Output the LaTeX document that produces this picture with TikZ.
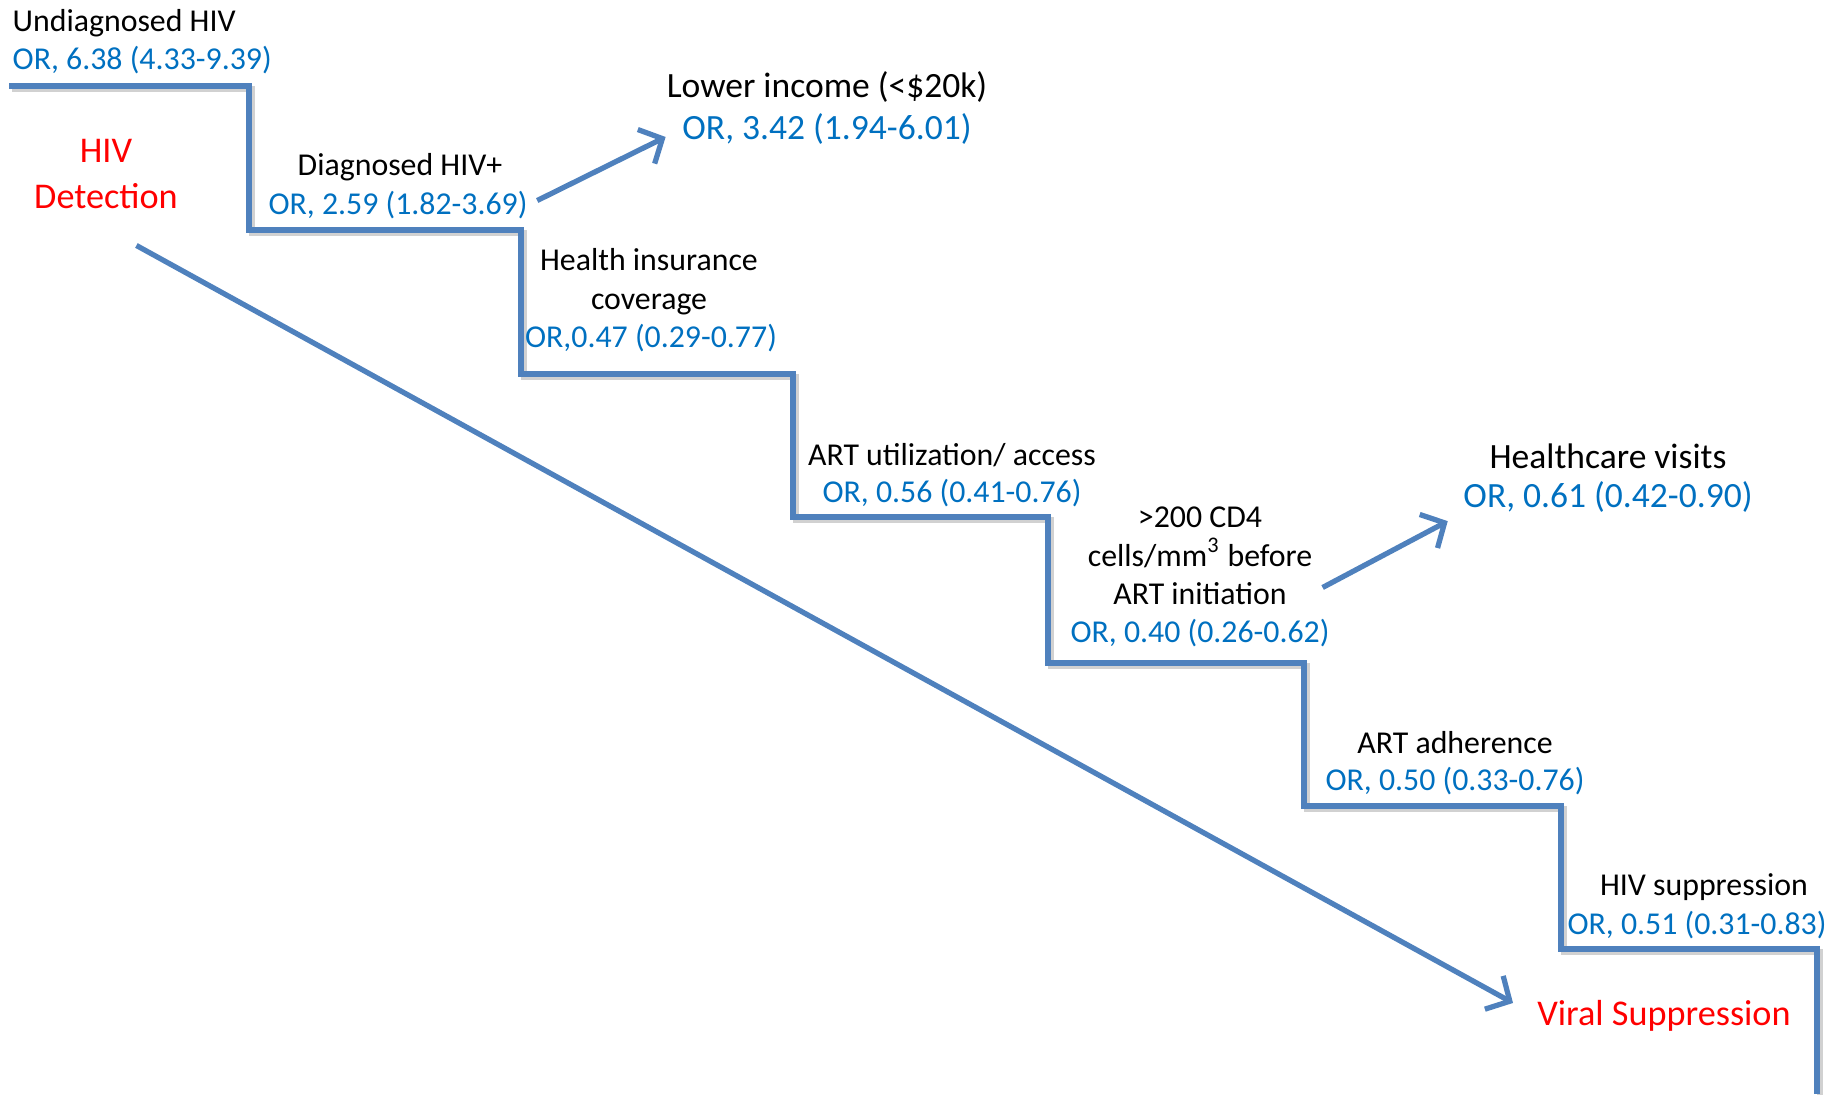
\documentclass[tikz,border=0pt]{standalone}
\usepackage{fontspec}
\setmainfont{Carlito}
\usetikzlibrary{arrows.meta}
\definecolor{stairblue}{HTML}{4F81BD}
\definecolor{orblue}{HTML}{0070C0}
\definecolor{hivred}{HTML}{FF0000}
\tikzset{
  lbl/.style={inner sep=0pt, align=center, font=\fontsize{9.05}{11}\selectfont},
  orv/.style={lbl, text=orblue},
  big/.style={inner sep=0pt, align=center, font=\fontsize{10.1}{11.8}\selectfont},
  bigor/.style={big, text=orblue},
  redlbl/.style={big, text=hivred, font=\fontsize{10.3}{13}\selectfont},
  stair/.style={draw=stairblue, line width=1.55pt},
  arr/.style={draw=stairblue, line width=1.5pt, -{Straight Barb[length=1.8mm,width=3.8mm]}},
}
\begin{document}
\begin{tikzpicture}[x=0.01cm, y=-0.01cm]
\useasboundingbox (0,0) rectangle (1839,1095);
% the steps
\draw[black!18, line width=1.55pt, xshift=0.8pt, yshift=-0.9pt] (9,86) -| (249,230) -| (521,374) -| (793,517) -| (1048,663) -| (1304,806) -| (1561,949) -| (1817,1094);
\draw[stair] (9,86) -| (249,230) -| (521,374) -| (793,517) -| (1048,663) -| (1304,806) -| (1561,949) -| (1817,1094);
% labels on the steps
\node[lbl, anchor=west] (u0) at (12,23) {Undiagnosed HIV};
\node[orv, anchor=west] (u0or) at (12,60) {OR, 6.38 (4.33-9.39)};
\node[redlbl] (hd) at (106,174) {HIV\\Detection};
\node[lbl] (dx) at (400,167) {Diagnosed HIV+};
\node[orv] (dxor) at (398,205) {OR, 2.59 (1.82-3.69)};
\node[big] (li) at (827,87) {Lower income (<\$20k)};
\node[bigor] (lior) at (827,129) {OR, 3.42 (1.94-6.01)};
\node[lbl] (ins) at (649,282) {Health insurance\\coverage};
\node[orv] (insor) at (651,338) {OR,0.47 (0.29-0.77)};
\node[lbl] (art) at (952,455) {ART utilization/ access};
\node[orv] (artor) at (952,493) {OR, 0.56 (0.41-0.76)};
\node[lbl] (cd4) at (1200,556) {>200 CD4\\cells/mm\textsuperscript{3} before\\ART initiation};
\node[orv] (cd4or) at (1200,633) {OR, 0.40 (0.26-0.62)};
\node[big] (hc) at (1608,456) {Healthcare visits};
\node[bigor] (hcor) at (1608,497) {OR, 0.61 (0.42-0.90)};
\node[lbl] (adh) at (1455,743) {ART adherence};
\node[orv] (adhor) at (1455,781) {OR, 0.50 (0.33-0.76)};
\node[lbl] (sup) at (1704,887) {HIV suppression};
\node[orv] (supor) at (1697,925) {OR, 0.51 (0.31-0.83)};
\node[redlbl] (vs) at (1664,1016) {Viral Suppression};
% arrows
\draw[arr, shorten <=1mm, shorten >=1.8mm] (dxor.east) -- (lior.west);
\draw[arr, shorten <=1.1mm, shorten >=1.7mm] (cd4.-18) -- (hcor.south west);
\draw[arr, shorten <=7.5mm, shorten >=2.7mm] (hd.-135) -- (vs.west);
\end{tikzpicture}
\end{document}
